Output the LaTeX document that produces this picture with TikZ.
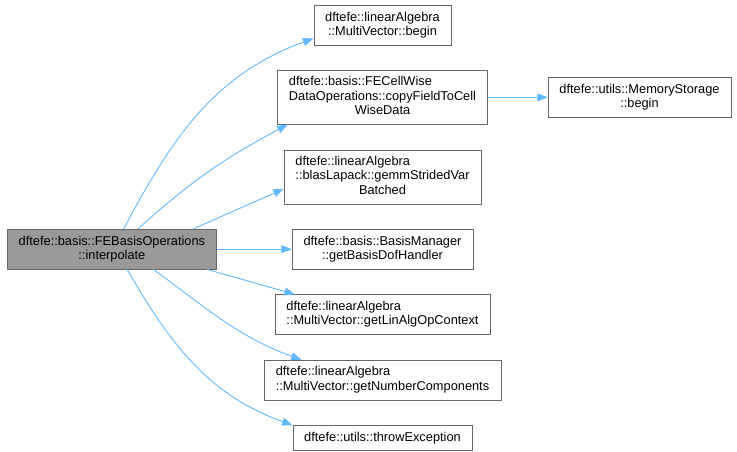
\documentclass[tikz,border=0pt]{standalone}
\usepackage{fontspec}
\setmainfont{Liberation Sans}
\usetikzlibrary{arrows.meta, positioning}
\definecolor{edgeblue}{HTML}{63B8FF}
\definecolor{boxline}{HTML}{666666}
\definecolor{curfill}{HTML}{999999}
\newcommand{\ltab}[1]{\begin{tabular}{@{}l@{}}#1\end{tabular}}
\newcommand{\ctr}[1]{\multicolumn{1}{@{}c@{}}{#1}}

\begin{document}
\begin{tikzpicture}[x=1pt,y=1pt,node distance=25pt,>={Stealth[length=10.5pt,width=8pt,inset=0pt]}]
  \tikzstyle{fn}=[draw=boxline,fill=white,font=\fontsize{12.8}{14.5}\selectfont,align=center,inner xsep=11.5pt,inner ysep=2pt,minimum height=40pt]
  \tikzstyle{fncur}=[fn,fill=curfill]
  \tikzstyle{call}=[color=edgeblue,line width=0.9pt]
  \useasboundingbox (0,0) rectangle (737,-451);

  \node[fn] (mvbegin) at (382.5,-25) {dftefe::linearAlgebra\\::MultiVector::begin};
  \node[fn,minimum height=54pt] (copyfield) [below=of mvbegin] {\ltab{dftefe::basis::FECellWise\\DataOperations::copyFieldToCell\\\ctr{WiseData}}};
  \node[fn,minimum height=54pt] (gemm)      [below=of copyfield] {\ltab{dftefe::linearAlgebra\\::blasLapack::gemmStridedVar\\\ctr{Batched}}};
  \node[fn]                     (basismgr)  [below=of gemm] {dftefe::basis::BasisManager\\::getBasisDofHandler};
  \node[fn]                     (linalg)    [below=of basismgr] {\ltab{dftefe::linearAlgebra\\::MultiVector::getLinAlgOpContext}};
  \node[fn]                     (numcomp)   [below=of linalg] {\ltab{dftefe::linearAlgebra\\::MultiVector::getNumberComponents}};
  \node[fn,minimum height=25pt] (throwex)   [below=of numcomp] {dftefe::utils::throwException};
  \node[fn]                     (memstore)  [right=60pt of copyfield] {dftefe::utils::MemoryStorage\\::begin};
  \node[fncur]                  (interp)    [left=75pt of basismgr] {dftefe::basis::FEBasisOperations\\::interpolate};

  \path[->,call]
  (interp.60)   edge [out=62,in=200]  (mvbegin.191)
  (interp.38)   edge [out=42,in=208]  (copyfield.196)
  (interp.14)   edge                  (gemm.187)
  (interp.east) edge                  (basismgr.west)
  (interp.-12)  edge                  (linalg.167)
  (interp.-26)  edge [out=-36,in=160] (numcomp.166)
  (interp.-53)  edge [out=-60,in=160] (throwex.172)
  (copyfield)   edge                  (memstore)
  ;
\end{tikzpicture}
\end{document}
